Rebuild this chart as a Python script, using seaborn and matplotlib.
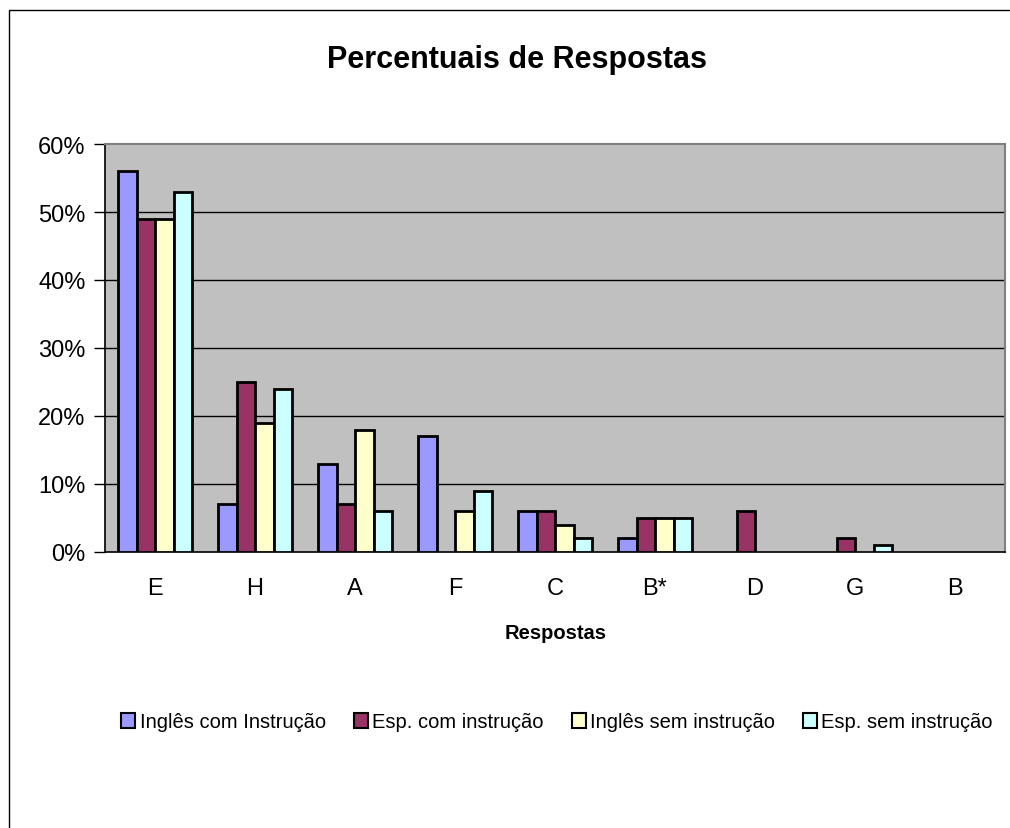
import pandas as pd
import numpy as np
import matplotlib
matplotlib.use("Agg")
import matplotlib.pyplot as plt
import seaborn as sns
from matplotlib.patches import Rectangle
from matplotlib.ticker import FuncFormatter

respostas = ["E", "H", "A", "F", "C", "B*", "D", "G", "B"]
grupos = ["Inglês com Instrução", "Esp. com instrução", "Inglês sem instrução", "Esp. sem instrução"]
ingles_com = [56, 7, 13, 17, 6, 2, 0, 0, 0]
esp_com = [49, 25, 7, 0, 6, 5, 6, 2, 0]
ingles_sem = [49, 19, 18, 6, 4, 5, 0, 0, 0]
esp_sem = [53, 24, 6, 9, 2, 5, 0, 1, 0]
cores = ["#9999FF", "#993366", "#FFFFCC", "#CCFFFF"]

df = pd.DataFrame({"resposta": respostas, grupos[0]: ingles_com, grupos[1]: esp_com,
                   grupos[2]: ingles_sem, grupos[3]: esp_sem})
long_df = pd.melt(df, id_vars="resposta", value_vars=grupos, var_name="grupo", value_name="pct")

sns.set_theme(style="white")
plt.rcParams['font.family'] = ['Liberation Sans', 'DejaVu Sans']
plt.rcParams['text.color'] = 'black'
plt.rcParams['xtick.color'] = 'black'
plt.rcParams['ytick.color'] = 'black'

fig = plt.figure(figsize=(10.1, 8.29), dpi=100)
ax = fig.add_axes([105/1010, 1-553/829, 900/1010, 408/829])
ax.set_facecolor("#C0C0C0")

sns.barplot(data=long_df, x="resposta", y="pct", hue="grupo", order=respostas, hue_order=grupos,
            palette=cores, width=0.74, edgecolor="black", linewidth=2, saturation=1, ax=ax, zorder=3,
            legend=False)

for p in ax.patches:
    if p.get_height() == 0:
        p.set_visible(False)

ax.set_ylim(0, 60)
ax.set_xlim(-0.5, len(respostas) - 0.5)
ax.set_yticks(range(0, 61, 10))
ax.yaxis.set_major_formatter(FuncFormatter(lambda v, pos: "%d%%" % v))
for v in range(10, 60, 10):
    ax.axhline(v, color="black", lw=1, zorder=1)

ax.set_xticks(np.arange(-0.5, len(respostas), 1), minor=True)
ax.tick_params(axis="x", which="major", length=0, pad=18, labelsize=17, labelcolor="black")
ax.tick_params(axis="x", which="minor", length=8, width=1, color="black", direction="out")
ax.tick_params(axis="y", which="major", length=8, width=1, color="black", direction="out", pad=6,
               labelsize=17, labelcolor="black", left=True)
ax.set_xlabel("")
ax.set_ylabel("")

for s in ["left", "bottom"]:
    ax.spines[s].set_color("black")
    ax.spines[s].set_linewidth(1.2)
for s in ["top", "right"]:
    ax.spines[s].set_color("#808080")
    ax.spines[s].set_linewidth(1.5)

handles = [Rectangle((0, 0), 1, 1, facecolor=c, edgecolor="black", lw=1.5) for c in cores]
fig.legend(handles, grupos, loc="center", bbox_to_anchor=(557/1010, 1-723/829), ncol=4, frameon=False,
           fontsize=14.5, handlelength=0.7, handleheight=0.7, handletextpad=0.2, columnspacing=1.4,
           labelcolor="black")

fig.text(517/1010, 1-60/829, "Percentuais de Respostas", ha="center", va="center", fontsize=22,
         fontweight="bold", color="black")
fig.text(556/1010, 1-634/829, "Respostas", ha="center", va="center", fontsize=14.5, fontweight="bold",
         color="black")

fig.add_artist(Rectangle((9/1010, -0.1), 1.2, 1 - 11/829 + 0.1, transform=fig.transFigure,
                         fill=False, ec="black", lw=1))

fig.savefig("out.png", dpi=100)
